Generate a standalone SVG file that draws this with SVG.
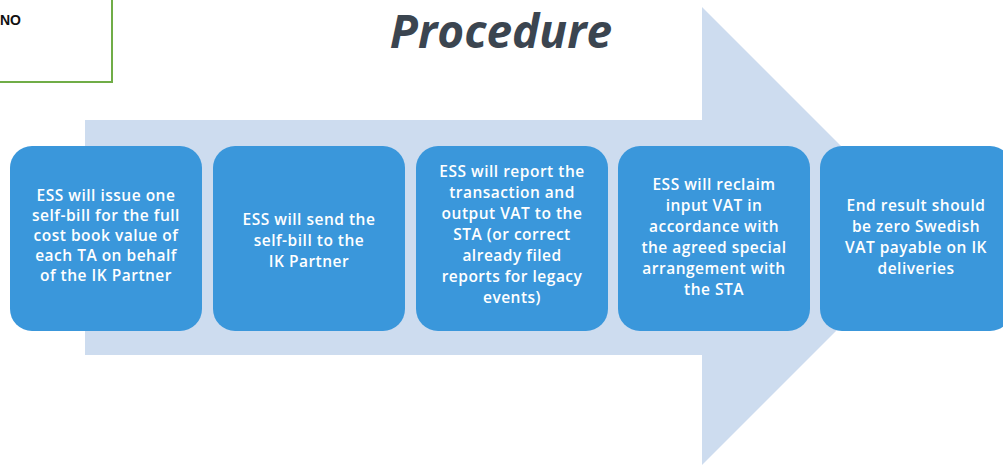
<svg xmlns="http://www.w3.org/2000/svg" width="1003" height="469" viewBox="0 0 1003 469">
<style>
.box{fill:#3a97db;}
.t{font-family:"Open Sans","Liberation Sans",sans-serif;font-weight:600;font-size:15.5px;letter-spacing:0.5px;fill:#ffffff;text-anchor:middle;}
.title{font-family:"Open Sans","Liberation Sans",sans-serif;font-weight:700;font-style:italic;font-size:46px;fill:#3b4550;text-anchor:middle;}
</style>
<rect width="1003" height="469" fill="#ffffff"/>
<g id="legend">
<rect x="-10" y="-10" width="122" height="92" fill="none" stroke="#70ad47" stroke-width="2"/>
<text x="0" y="25" font-family="Liberation Sans, sans-serif" font-weight="700" font-size="14" fill="#111">NO</text>
</g>
<g id="arrow">
<polygon points="85,120 702,120 702,7 931,236 702,465 702,355 85,355" fill="#cddcef"/>
</g>
<text class="title" x="501" y="48">Procedure</text>
<g id="step1">
<rect class="box" x="10" y="146" width="192" height="185" rx="22"/>
<text class="t" x="106" y="201">ESS will issue one</text>
<text class="t" x="106" y="221">self-bill for the full</text>
<text class="t" x="106" y="241">cost book value of</text>
<text class="t" x="106" y="261">each TA on behalf</text>
<text class="t" x="106" y="281">of the IK Partner</text>
</g>
<g id="step2">
<rect class="box" x="213" y="146" width="192" height="185" rx="22"/>
<text class="t" x="309" y="225">ESS will send the</text>
<text class="t" x="309" y="246">self-bill to the</text>
<text class="t" x="309" y="267">IK Partner</text>
</g>
<g id="step3">
<rect class="box" x="416" y="146" width="192" height="185" rx="22"/>
<text class="t" x="512" y="177">ESS will report the</text>
<text class="t" x="512" y="198">transaction and</text>
<text class="t" x="512" y="219">output VAT to the</text>
<text class="t" x="512" y="240">STA (or correct</text>
<text class="t" x="512" y="261">already filed</text>
<text class="t" x="512" y="282">reports for legacy</text>
<text class="t" x="512" y="303">events)</text>
</g>
<g id="step4">
<rect class="box" x="618" y="146" width="192" height="185" rx="22"/>
<text class="t" x="714" y="190">ESS will reclaim</text>
<text class="t" x="714" y="211">input VAT in</text>
<text class="t" x="714" y="232">accordance with</text>
<text class="t" x="714" y="253">the agreed special</text>
<text class="t" x="714" y="274">arrangement with</text>
<text class="t" x="714" y="295">the STA</text>
</g>
<g id="step5">
<rect class="box" x="820" y="146" width="192" height="185" rx="22"/>
<text class="t" x="916" y="211">End result should</text>
<text class="t" x="916" y="232">be zero Swedish</text>
<text class="t" x="916" y="253">VAT payable on IK</text>
<text class="t" x="916" y="274">deliveries</text>
</g>
<g id="connectors"></g>
</svg>
